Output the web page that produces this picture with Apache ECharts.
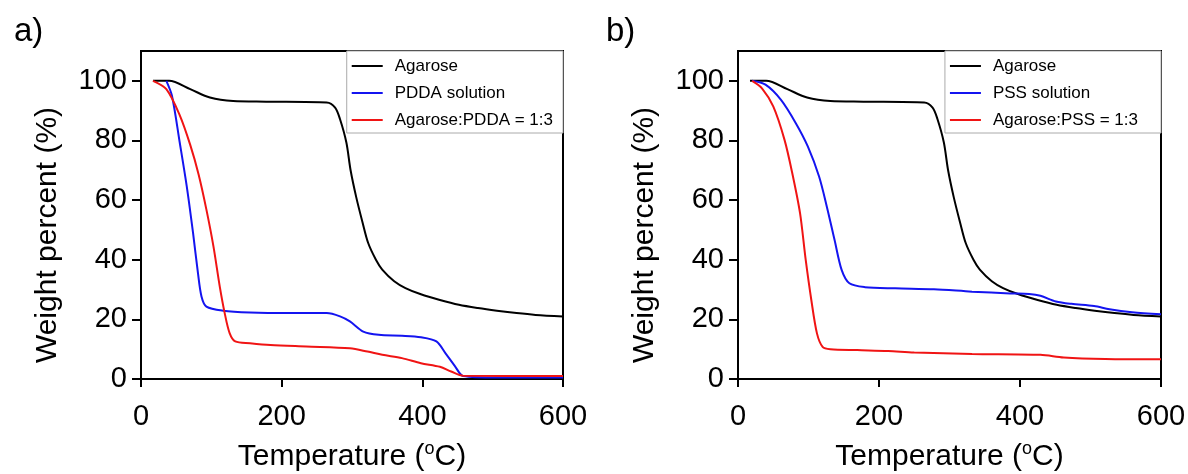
<!DOCTYPE html>
<html>
<head>
<meta charset="utf-8">
<script src="https://cdn.jsdelivr.net/npm/echarts@6/dist/echarts.min.js"></script>
<style>
  html, body { margin: 0; padding: 0; background: #fff; }
  #chart { width: 1188px; height: 474px; }
</style>
</head>
<body>
<div id="chart"></div>
<script>
// axis ticks
const xTicks = [0, 200, 400, 600];
const yTicks = [0, 20, 40, 60, 80, 100];

// agarose (same sample in both panels)
const agaroseT = [17, 40, 70, 98, 131, 178, 264, 276, 283, 292, 298, 306, 315, 323, 334, 343, 360, 376, 398, 425, 452, 479, 506, 534, 561, 600];
const agaroseW = [100, 100, 97.2, 94.4, 93.2, 93, 92.7, 91, 87.1, 79.3, 70, 61, 52.5, 45.6, 40, 36.7, 32.8, 30.5, 28.4, 26.5, 24.9, 23.8, 22.9, 22.1, 21.5, 21];

// panel a
const pddaT = [36, 44, 55, 65, 74, 81, 86, 93, 117, 155, 210, 264, 283, 297, 316, 338, 371, 398, 420, 433, 447, 458, 506, 600];
const pddaW = [100, 95, 79.4, 64.7, 49, 35.5, 27.7, 24.3, 22.9, 22.3, 22.1, 22.1, 21, 19.3, 15.9, 14.8, 14.5, 14, 12.6, 8.6, 4.1, 1, 0.5, 0.5];
const agPddaT = [17, 36, 55, 70, 82, 93, 103, 112, 119, 126, 134, 155, 184, 235, 297, 322, 343, 371, 398, 425, 441, 458, 600];
const agPddaW = [100, 97.2, 88.5, 78.5, 68.5, 56.8, 44.5, 31, 22.1, 15.4, 12.6, 12, 11.4, 10.9, 10.3, 9.2, 8.1, 7, 5.3, 4.1, 2.5, 1.1, 1];

// panel b
const pssT = [20, 39, 61, 82, 99, 115, 126, 137, 147, 158, 180, 223, 278, 332, 386, 413, 429, 451, 473, 505, 527, 559, 600];
const pssW = [100, 98.7, 93.6, 85.8, 78, 67.9, 57.8, 46.6, 36.6, 32.1, 30.8, 30.4, 30.1, 29.3, 28.7, 28.5, 27.9, 26, 25.2, 24.5, 23.4, 22.4, 21.7];
const agPssT = [20, 34, 50, 66, 77, 88, 96, 104, 112, 120, 131, 169, 213, 250, 332, 429, 462, 521, 600];
const agPssW = [100, 97.5, 91.4, 80.2, 69, 55.6, 40, 26.5, 15.3, 10.8, 10, 9.7, 9.4, 8.9, 8.4, 8.1, 7.2, 6.7, 6.6];

const namesA = ['Agarose', 'PDDA solution', 'Agarose:PDDA = 1:3'];
const namesB = ['Agarose', 'PSS solution', 'Agarose:PSS = 1:3'];

const font = 'Liberation Sans, Arial, sans-serif';
const colors = ['#000000', '#1414f0', '#f01414'];

function pairs(t, w) {
  return t.map((v, i) => [v, w[i]]);
}

function xAxis(i) {
  return {
    gridIndex: i, type: 'value', min: 0, max: 600, interval: 200,
    name: 'Temperature ({sup|o}C)', nameLocation: 'middle', nameGap: 61,
    nameTextStyle: {
      fontSize: 30, color: '#000', fontFamily: font,
      rich: { sup: { fontSize: 18, color: '#000', fontFamily: font, padding: [0, 0, 15, 0] } }
    },
    axisLine: { onZero: false, lineStyle: { color: '#000', width: 2 } },
    axisTick: { length: 8, lineStyle: { color: '#000', width: 2 } },
    axisLabel: { fontSize: 29, color: '#000', fontFamily: font, margin: 23 },
    splitLine: { show: false }
  };
}

function yAxis(i) {
  return {
    gridIndex: i, type: 'value', min: 0, max: 110, interval: 20,
    name: 'Weight percent (%)', nameLocation: 'middle', nameGap: 78,
    nameTextStyle: { fontSize: 30, color: '#000', fontFamily: font, padding: [0, 40, 0, 0] },
    axisLine: { onZero: false, lineStyle: { color: '#000', width: 2 } },
    axisTick: { customValues: yTicks, length: 9, lineStyle: { color: '#000', width: 2 } },
    axisLabel: { customValues: yTicks, fontSize: 29, color: '#000', fontFamily: font, margin: 14 },
    splitLine: { show: false }
  };
}

function legend(names, right, padRight) {
  return {
    orient: 'vertical', right: right, top: 51,
    data: names, selectedMode: false,
    icon: 'rect', itemWidth: 31, itemHeight: 2, itemGap: 9,
    padding: [6, padRight, 4, 5],
    borderColor: '#aaa', borderWidth: 1, backgroundColor: '#fff',
    textStyle: { fontSize: 17, lineHeight: 18, color: '#000', fontFamily: font, padding: [0, 0, 0, 7] }
  };
}

function line(name, i, t, w, c) {
  return {
    name: name, type: 'line', xAxisIndex: i, yAxisIndex: i,
    data: pairs(t, w), symbol: 'none', smooth: 0.3,
    lineStyle: { color: c, width: 2 }, itemStyle: { color: c }
  };
}

const chart = echarts.init(document.getElementById('chart'));
chart.setOption({
  animation: false,
  grid: [
    { left: 141, top: 51, width: 422, height: 328, outerBoundsMode: 'none', show: true, borderColor: '#000', borderWidth: 2 },
    { left: 738, top: 51, width: 423, height: 328, outerBoundsMode: 'none', show: true, borderColor: '#000', borderWidth: 2 }
  ],
  xAxis: [xAxis(0), xAxis(1)],
  yAxis: [yAxis(0), yAxis(1)],
  legend: [legend(namesA, 625, 10), legend(namesB, 27, 23)],
  graphic: [
    { type: 'text', left: 14, top: 15, style: { text: 'a)', fontSize: 33, fill: '#000', fontFamily: font } },
    { type: 'text', left: 606, top: 15, style: { text: 'b)', fontSize: 33, fill: '#000', fontFamily: font } }
  ],
  series: [
    line(namesA[0], 0, agaroseT, agaroseW, colors[0]),
    line(namesA[1], 0, pddaT, pddaW, colors[1]),
    line(namesA[2], 0, agPddaT, agPddaW, colors[2]),
    line(namesB[0], 1, agaroseT, agaroseW, colors[0]),
    line(namesB[1], 1, pssT, pssW, colors[1]),
    line(namesB[2], 1, agPssT, agPssW, colors[2])
  ]
});
</script>
</body>
</html>
